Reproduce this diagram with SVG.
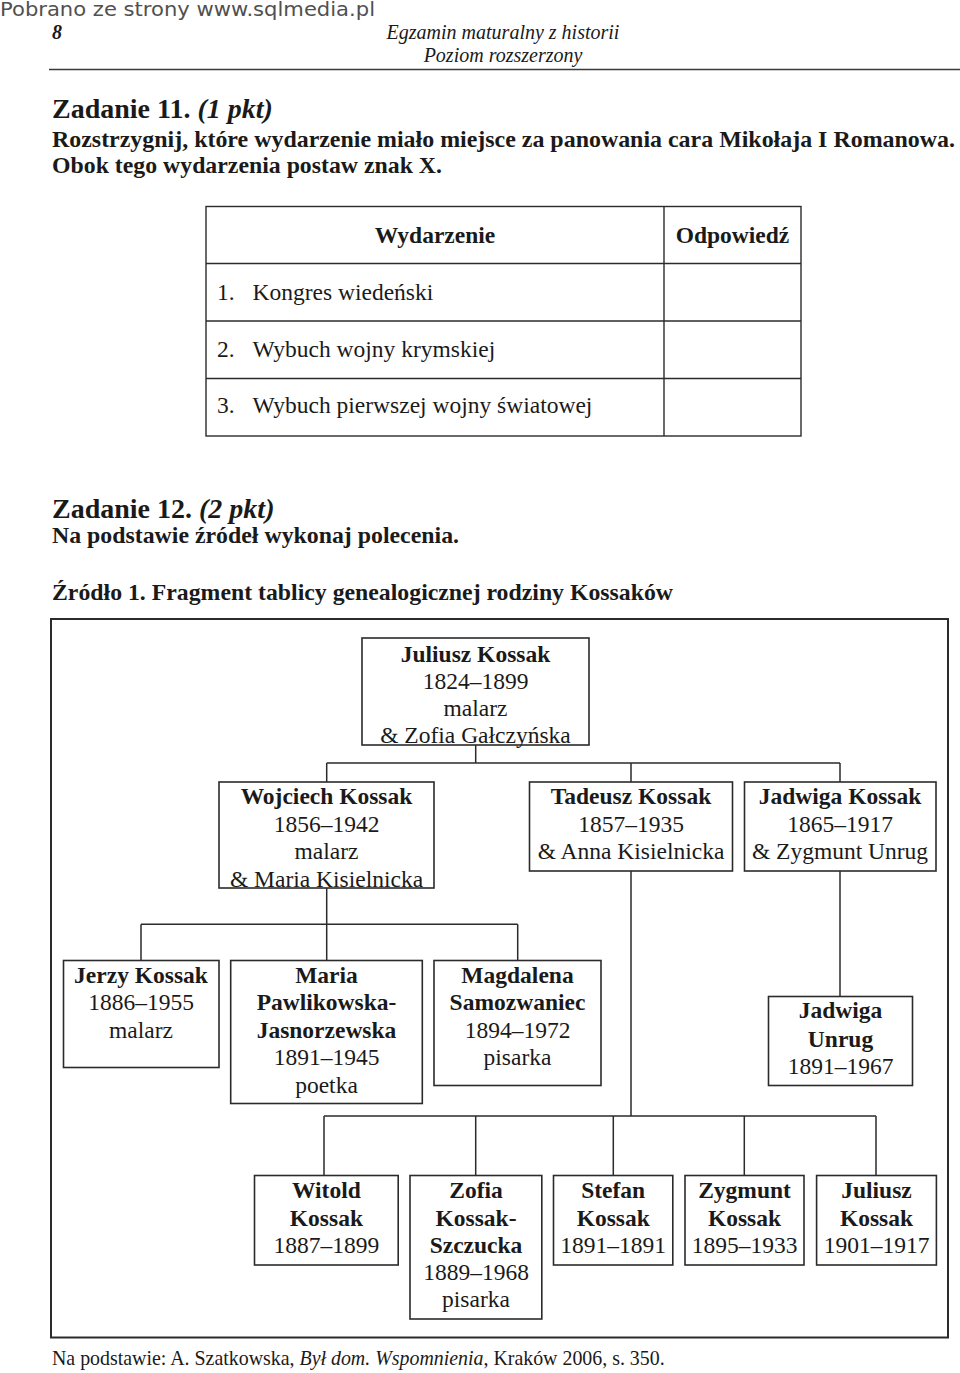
<svg xmlns="http://www.w3.org/2000/svg" width="960" height="1373" viewBox="0 0 960 1373">
<style>
.t{font-family:"Liberation Serif","Times New Roman",serif;fill:#1a1a1a;font-size:23.5px}
.b{font-weight:bold}
.i{font-style:italic}
.c{text-anchor:middle}
.h{font-size:20px}
.big{font-size:28px}
.fn{font-size:19.9px}
.wm{font-family:"DejaVu Sans","Liberation Sans",sans-serif;font-size:19px;fill:#505050}
.box{fill:#fff;stroke:#2b2b2b;stroke-width:1.6}
.ln{fill:none;stroke:#2b2b2b;stroke-width:1.5}
.rule{stroke:#3a3a3a;stroke-width:1.6}
</style>
<rect width="960" height="1373" fill="#fff"/>

<g id="header">
<text class="wm" x="0" y="16" textLength="375" lengthAdjust="spacingAndGlyphs">Pobrano ze strony www.sqlmedia.pl</text>
<text class="t b i h" x="52" y="39">8</text>
<text class="t i h c" x="503" y="39">Egzamin maturalny z historii</text>
<text class="t i h c" x="503" y="62">Poziom rozszerzony</text>
<line class="rule" x1="49" y1="69.5" x2="960" y2="69.5"/>
</g>

<g id="task11">
<text class="t b big" x="52" y="118">Zadanie 11. <tspan class="i">(1 pkt)</tspan></text>
<text class="t b" x="52" y="147" textLength="903" lengthAdjust="spacingAndGlyphs">Rozstrzygnij, które wydarzenie miało miejsce za panowania cara Mikołaja I Romanowa.</text>
<text class="t b" x="52" y="173" textLength="390" lengthAdjust="spacingAndGlyphs">Obok tego wydarzenia postaw znak X.</text>
</g>

<g id="table">
<rect x="206" y="206.5" width="595" height="229.5" fill="none" stroke="#2b2b2b" stroke-width="1.4"/>
<line x1="664" y1="206.5" x2="664" y2="436" stroke="#2b2b2b" stroke-width="1.4"/>
<line x1="206" y1="263.5" x2="801" y2="263.5" stroke="#2b2b2b" stroke-width="1.4"/>
<line x1="206" y1="321" x2="801" y2="321" stroke="#2b2b2b" stroke-width="1.4"/>
<line x1="206" y1="378.5" x2="801" y2="378.5" stroke="#2b2b2b" stroke-width="1.4"/>
<text class="t b c" x="435" y="243">Wydarzenie</text>
<text class="t b c" x="732.5" y="243">Odpowiedź</text>
<text class="t" x="217" y="300">1.</text>
<text class="t" x="252.5" y="300">Kongres wiedeński</text>
<text class="t" x="217" y="357">2.</text>
<text class="t" x="252.5" y="357">Wybuch wojny krymskiej</text>
<text class="t" x="217" y="413">3.</text>
<text class="t" x="252.5" y="413">Wybuch pierwszej wojny światowej</text>
</g>

<g id="task12">
<text class="t b big" x="52" y="518">Zadanie 12. <tspan class="i">(2 pkt)</tspan></text>
<text class="t b" x="52" y="543" textLength="407" lengthAdjust="spacingAndGlyphs">Na podstawie źródeł wykonaj polecenia.</text>
<text class="t b" x="52" y="600" textLength="621" lengthAdjust="spacingAndGlyphs">Źródło 1. Fragment tablicy genealogicznej rodziny Kossaków</text>
</g>

<g id="frame">
<rect x="51" y="619" width="897" height="718.5" fill="none" stroke="#2b2b2b" stroke-width="2"/>
</g>

<g id="connectors">
<path class="ln" d="M475.7 745V763M326.7 763H840M326.7 763V782M631 763V782M840 763V782"/>
<path class="ln" d="M326.7 888V924.3M141 924.3H517.7M141 924.3V960.5M326.7 924.3V960.5M517.7 924.3V960.5"/>
<path class="ln" d="M840 871V996.5"/>
<path class="ln" d="M631 871V1116M324 1116H876M324 1116V1175.5M475.7 1116V1175.5M613.3 1116V1175.5M744.3 1116V1175.5M876 1116V1175.5"/>
</g>

<g id="juliusz">
<rect class="box" x="362" y="638" width="227" height="107"/>
<text class="t b c" x="475.5" y="662">Juliusz Kossak</text>
<text class="t c" x="475.5" y="689">1824–1899</text>
<text class="t c" x="475.5" y="716">malarz</text>
<text class="t c" x="475.5" y="743">&amp; Zofia Gałczyńska</text>
</g>

<g id="wojciech">
<rect class="box" x="219" y="782" width="215" height="106"/>
<text class="t b c" x="326.5" y="804">Wojciech Kossak</text>
<text class="t c" x="326.5" y="832">1856–1942</text>
<text class="t c" x="326.5" y="859">malarz</text>
<text class="t c" x="326.5" y="887">&amp; Maria Kisielnicka</text>
</g>

<g id="tadeusz">
<rect class="box" x="529.5" y="782" width="203" height="89"/>
<text class="t b c" x="631" y="804">Tadeusz Kossak</text>
<text class="t c" x="631" y="832">1857–1935</text>
<text class="t c" x="631" y="859">&amp; Anna Kisielnicka</text>
</g>

<g id="jadwiga-kossak">
<rect class="box" x="744.5" y="782" width="191.5" height="89"/>
<text class="t b c" x="840" y="804">Jadwiga Kossak</text>
<text class="t c" x="840" y="832">1865–1917</text>
<text class="t c" x="840" y="859">&amp; Zygmunt Unrug</text>
</g>

<g id="jerzy">
<rect class="box" x="63.5" y="960.5" width="155.5" height="107"/>
<text class="t b c" x="141" y="982.7">Jerzy Kossak</text>
<text class="t c" x="141" y="1010">1886–1955</text>
<text class="t c" x="141" y="1037.7">malarz</text>
</g>

<g id="maria">
<rect class="box" x="230.7" y="960.5" width="191.6" height="143"/>
<text class="t b c" x="326.5" y="982.7">Maria</text>
<text class="t b c" x="326.5" y="1010">Pawlikowska-</text>
<text class="t b c" x="326.5" y="1037.7">Jasnorzewska</text>
<text class="t c" x="326.5" y="1065">1891–1945</text>
<text class="t c" x="326.5" y="1092.7">poetka</text>
</g>

<g id="magdalena">
<rect class="box" x="434" y="960.5" width="167" height="125"/>
<text class="t b c" x="517.5" y="982.7">Magdalena</text>
<text class="t b c" x="517.5" y="1010">Samozwaniec</text>
<text class="t c" x="517.5" y="1037.7">1894–1972</text>
<text class="t c" x="517.5" y="1065">pisarka</text>
</g>

<g id="jadwiga-unrug">
<rect class="box" x="768.5" y="996.5" width="144" height="89"/>
<text class="t b c" x="840.5" y="1018">Jadwiga</text>
<text class="t b c" x="840.5" y="1046.5">Unrug</text>
<text class="t c" x="840.5" y="1074">1891–1967</text>
</g>

<g id="witold">
<rect class="box" x="254.5" y="1175.5" width="143.7" height="89.5"/>
<text class="t b c" x="326.4" y="1198.3">Witold</text>
<text class="t b c" x="326.4" y="1226">Kossak</text>
<text class="t c" x="326.4" y="1253.3">1887–1899</text>
</g>

<g id="zofia">
<rect class="box" x="410" y="1175.5" width="131.8" height="143.5"/>
<text class="t b c" x="476" y="1198.3">Zofia</text>
<text class="t b c" x="476" y="1226">Kossak-</text>
<text class="t b c" x="476" y="1253.3">Szczucka</text>
<text class="t c" x="476" y="1279.5">1889–1968</text>
<text class="t c" x="476" y="1306.7">pisarka</text>
</g>

<g id="stefan">
<rect class="box" x="553.5" y="1175.5" width="119.3" height="89.5"/>
<text class="t b c" x="613.2" y="1198.3">Stefan</text>
<text class="t b c" x="613.2" y="1226">Kossak</text>
<text class="t c" x="613.2" y="1253.3">1891–1891</text>
</g>

<g id="zygmunt">
<rect class="box" x="685" y="1175.5" width="119" height="89.5"/>
<text class="t b c" x="744.5" y="1198.3">Zygmunt</text>
<text class="t b c" x="744.5" y="1226">Kossak</text>
<text class="t c" x="744.5" y="1253.3">1895–1933</text>
</g>

<g id="juliusz-jr">
<rect class="box" x="816.6" y="1175.5" width="119.8" height="89.5"/>
<text class="t b c" x="876.5" y="1198.3">Juliusz</text>
<text class="t b c" x="876.5" y="1226">Kossak</text>
<text class="t c" x="876.5" y="1253.3">1901–1917</text>
</g>

<g id="footnote">
<text class="t fn" x="52" y="1365">Na podstawie: A. Szatkowska, <tspan class="i">Był dom. Wspomnienia</tspan>, Kraków 2006, s. 350.</text>
</g>
</svg>
